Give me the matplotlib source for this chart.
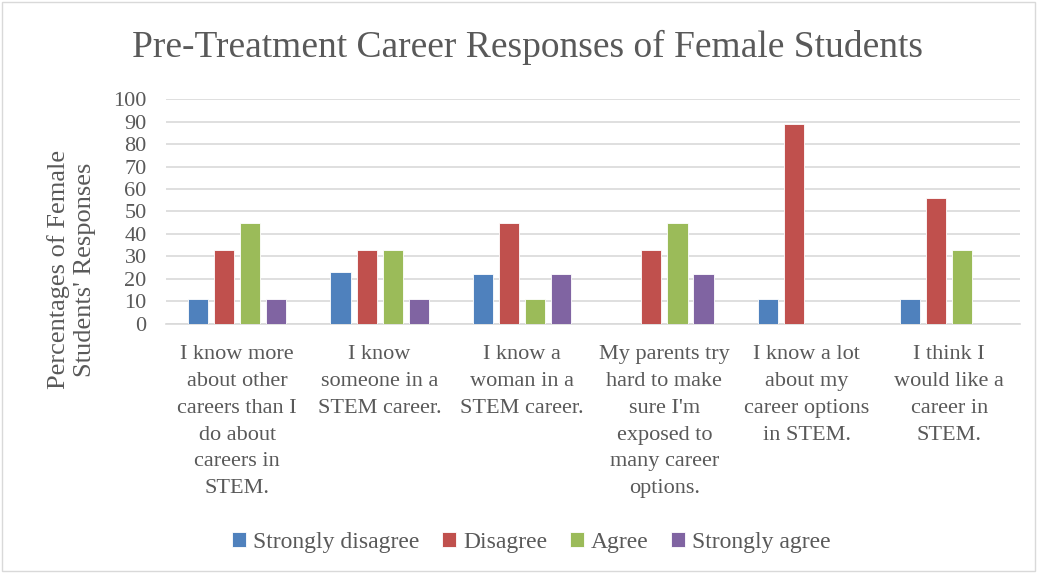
import matplotlib.pyplot as plt
import numpy as np
from matplotlib.patches import Rectangle

categories = [
    "I know more\nabout other\ncareers than I\ndo about\ncareers in\nSTEM.",
    "I know\nsomeone in a\nSTEM career.",
    "I know a\nwoman in a\nSTEM career.",
    "My parents try\nhard to make\nsure I'm\nexposed to\nmany career\noptions.",
    "I know a lot\nabout my\ncareer options\nin STEM.",
    "I think I\nwould like a\ncareer in\nSTEM.",
]
series_names = ["Strongly disagree", "Disagree", "Agree", "Strongly agree"]
strongly_disagree = [11, 23, 22, 0, 11, 11]
disagree = [33, 33, 45, 33, 89, 56]
agree = [45, 33, 11, 45, 0, 33]
strongly_agree = [11, 11, 22, 22, 0, 0]
colors = ["#4F81BD", "#C0504D", "#9BBB59", "#8064A2"]

plt.rcParams["font.family"] = ["Liberation Serif", "DejaVu Serif"]
text_color = "#595959"

fig = plt.figure(figsize=(10.38, 5.73), dpi=100)
ax = fig.add_axes((0.16, 0.435, 0.823, 0.392))

x = np.arange(len(categories))
step = 0.183
width = 0.142
for i, (name, vals) in enumerate(zip(series_names,
                                     [strongly_disagree, disagree, agree, strongly_agree])):
    ax.bar(x + (i - 1.5) * step, vals, width, color=colors[i], label=name,
           edgecolor="white", linewidth=0.6, zorder=3)

ax.set_xlim(-0.5, len(categories) - 0.5)
ax.set_ylim(0, 100)
ax.set_yticks(range(0, 101, 10))
ax.tick_params(axis="y", length=0, labelsize=16, labelcolor=text_color, pad=14)
ax.set_xticks(x)
ax.set_xticklabels(categories, fontsize=16, color=text_color, linespacing=1.57)
ax.tick_params(axis="x", length=0, pad=15)
ax.grid(axis="y", color="#D9D9D9", linewidth=1.2, zorder=0)
for side in ["top", "right", "left"]:
    ax.spines[side].set_visible(False)
ax.spines["bottom"].set_color("#D9D9D9")
ax.spines["bottom"].set_linewidth(1.2)

fig.text(0.069, 0.529, "Percentages of Female\nStudents' Responses", rotation=90,
         ha="center", va="center", fontsize=19, color=text_color,
         linespacing=1.25, multialignment="center")

fig.text(0.508, 0.918, "Pre-Treatment Career Responses of Female Students",
         ha="center", va="center", fontsize=27, color=text_color)

fig.legend(loc="center", bbox_to_anchor=(0.512, 0.054), ncol=4, frameon=False,
           fontsize=17, handlelength=0.6, handleheight=0.6, handletextpad=0.3,
           columnspacing=0.95, labelcolor=text_color)

fig.patches.append(Rectangle((0.002, 0.004), 0.995, 0.992, transform=fig.transFigure,
                             fill=False, edgecolor="#D9D9D9", linewidth=1))

fig.savefig("out.png", dpi=100)
